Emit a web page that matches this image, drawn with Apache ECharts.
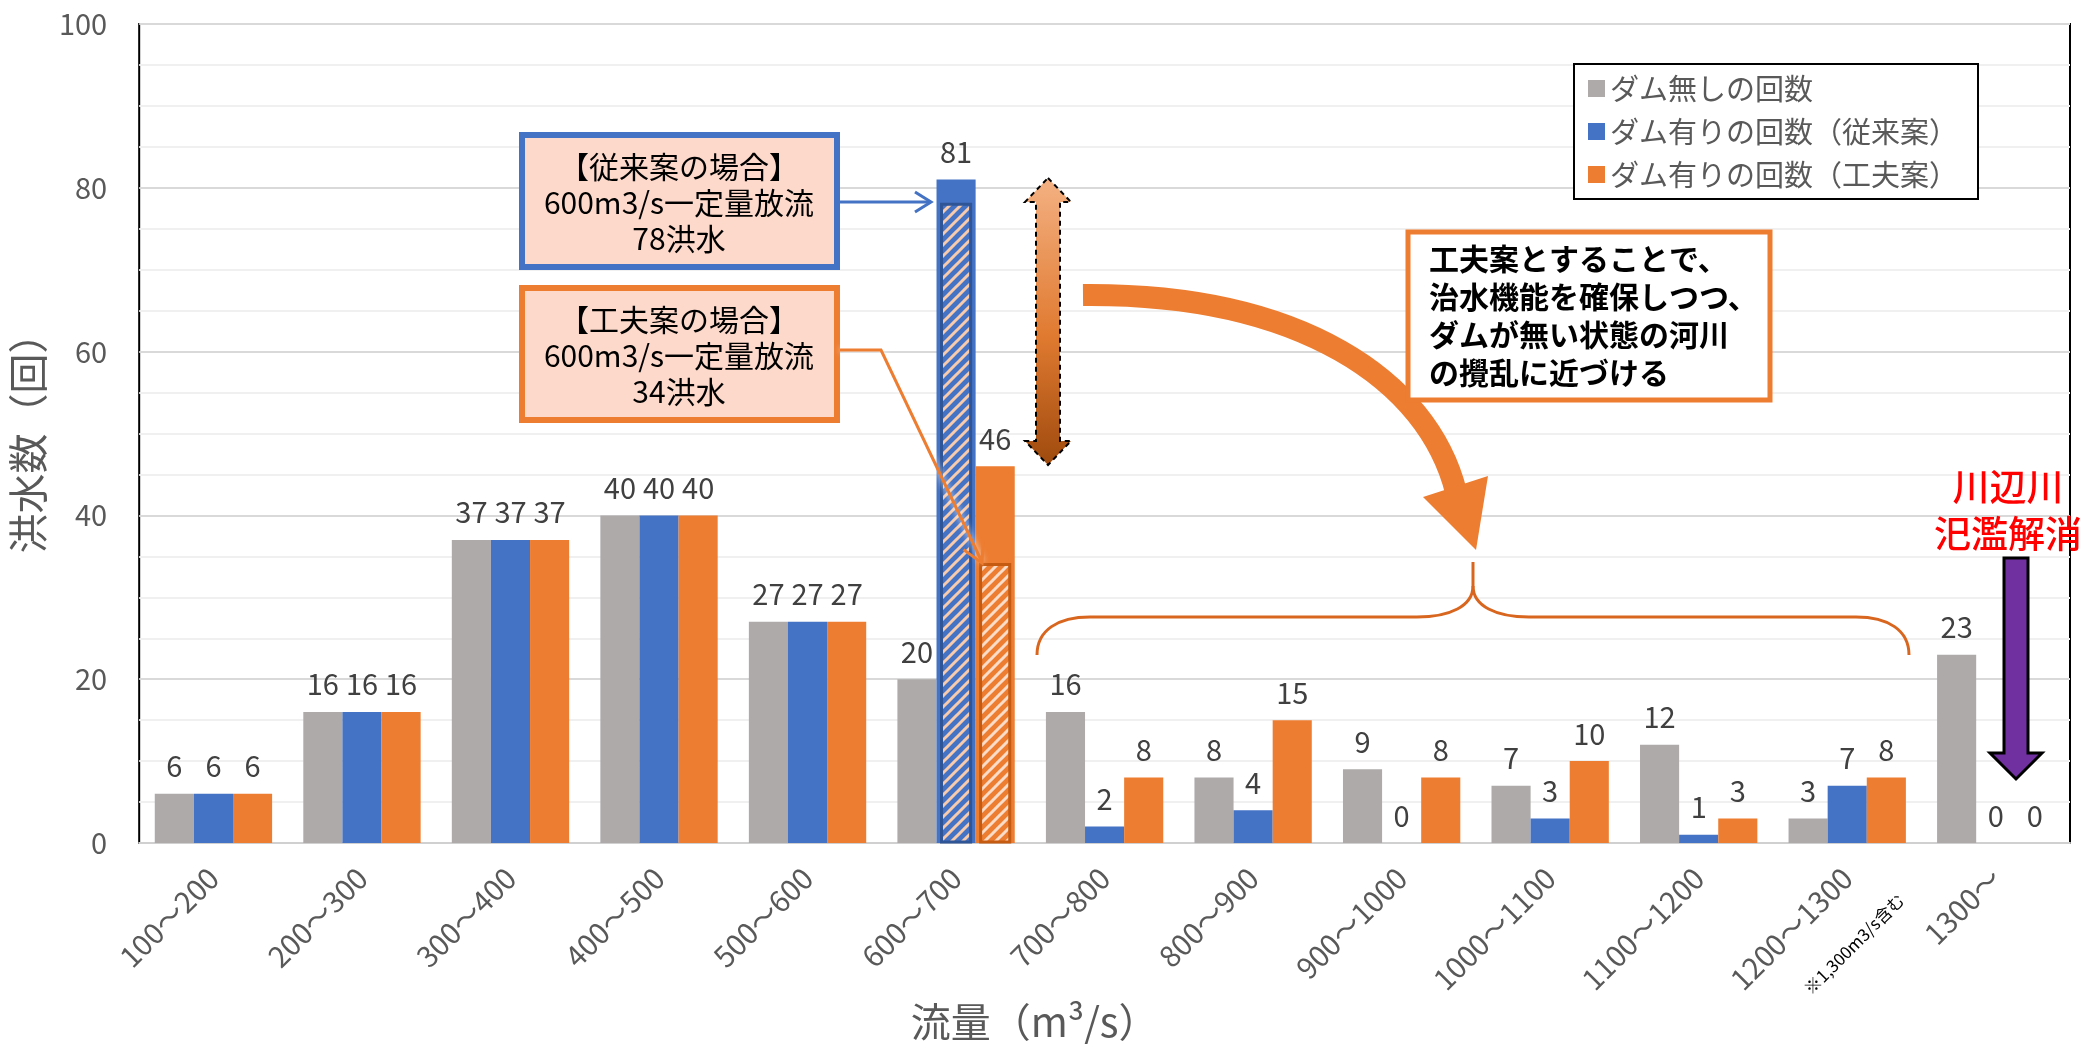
<!DOCTYPE html>
<html>
<head>
<meta charset="utf-8">
<script src="https://cdn.jsdelivr.net/npm/echarts@6/dist/echarts.min.js"></script>
<style>
html,body{margin:0;padding:0;background:#fff;}
#main{width:2087px;height:1050px;}
</style>
</head>
<body>
<div id="main"></div>
<script>
// 流量区分ごとの洪水数
var categories = ['100～200','200～300','300～400','400～500','500～600','600～700','700～800','800～900','900～1000','1000～1100','1100～1200','1200～1300','1300～'];
var noDam = [6, 16, 37, 40, 27, 20, 16, 8, 9, 7, 12, 3, 23];
var withDamConv = [6, 16, 37, 40, 27, 81, 2, 4, 0, 3, 1, 7, 0];
var withDamKufu = [6, 16, 37, 40, 27, 46, 8, 15, 8, 10, 3, 8, 0];
var seriesNames = ['ダム無しの回数', 'ダム有りの回数（従来案）', 'ダム有りの回数（工夫案）'];
var seriesColors = ['#AEAAAA', '#4472C4', '#ED7D31'];
// 600m3/s一定量放流の洪水数（斜線部）
var hatchCategory = '600～700';
var hatchConv = 78;
var hatchKufu = 34;

var FONT = '"Noto Sans CJK JP", "Noto Sans", sans-serif';

function stripes(bg, fg) {
  var s = 11;
  var c = document.createElement('canvas');
  c.width = s; c.height = s;
  var g = c.getContext('2d');
  g.fillStyle = bg;
  g.fillRect(0, 0, s, s);
  g.strokeStyle = fg;
  g.lineWidth = 3;
  g.beginPath();
  g.moveTo(-1, s + 1); g.lineTo(s + 1, -1);
  g.moveTo(-s / 2 - 1, s / 2 + 1); g.lineTo(s / 2 + 1, -s / 2 - 1);
  g.moveTo(s / 2 - 1, s * 1.5 + 1); g.lineTo(s * 1.5 + 1, s / 2 - 1);
  g.stroke();
  return c;
}
var hatchFill = [
  null,
  { image: stripes('#4472C4', '#F8CBAD'), repeat: 'repeat' },
  { image: stripes('#ED7D31', '#FBDCC8'), repeat: 'repeat' }
];
var hatchStroke = [null, '#2F5597', '#C55A11'];

function barSeries(i, data) {
  return {
    type: 'bar',
    name: seriesNames[i],
    data: data,
    barGap: '0%',
    barCategoryGap: '21%',
    itemStyle: { color: seriesColors[i] },
    label: {
      show: true, position: 'top', distance: 13,
      color: '#404040', fontSize: 29, fontFamily: FONT
    }
  };
}

// 矢印の頭（開いた形）
function chevron(x0, y0, x1, y1, len, half) {
  var dx = x1 - x0, dy = y1 - y0;
  var d = Math.sqrt(dx * dx + dy * dy);
  var ux = dx / d, uy = dy / d;
  var bx = x1 - ux * len, by = y1 - uy * len;
  return [[bx - uy * half, by + ux * half], [x1, y1], [bx + uy * half, by - ux * half]];
}

var chart = echarts.init(document.getElementById('main'));
var hatchIdx = categories.indexOf(hatchCategory);

var boxText = { fill: '#000', font: '30px ' + FONT, align: 'center', verticalAlign: 'middle',
  textAlign: 'center', textVerticalAlign: 'middle', lineHeight: 36 };

var braceStyle = { stroke: '#D9661F', lineWidth: 3, fill: null };
function braceCurve(a, b, c, d) {
  return { type: 'bezierCurve', z: 100, shape: { x1: a[0], y1: a[1], cpx1: b[0], cpy1: b[1], cpx2: c[0], cpy2: c[1], x2: d[0], y2: d[1] }, style: braceStyle };
}
function braceLine(a, b) {
  return { type: 'line', z: 100, shape: { x1: a[0], y1: a[1], x2: b[0], y2: b[1] }, style: braceStyle };
}

chart.setOption({
  backgroundColor: '#fff',
  animation: false,
  textStyle: { fontFamily: FONT },
  grid: { left: 139, right: 17, top: 24, bottom: 207, show: true, borderColor: '#000', borderWidth: 2 },
  legend: {
    data: seriesNames,
    orient: 'vertical',
    left: 1574, top: 64,
    itemWidth: 17, itemHeight: 17, itemGap: 14,
    padding: [10, 20, 10, 14],
    backgroundColor: '#fff',
    borderColor: '#000', borderWidth: 2,
    icon: 'rect',
    textStyle: { color: '#595959', fontSize: 29, fontFamily: FONT }
  },
  xAxis: {
    type: 'category',
    data: categories,
    name: '流量（m³/s）',
    nameLocation: 'middle',
    nameGap: 158,
    nameTextStyle: { color: '#595959', fontSize: 40, fontFamily: FONT, padding: [0, 140, 0, 0] },
    axisLine: { lineStyle: { color: '#D0D0D0', width: 2 } },
    axisTick: { show: false },
    axisLabel: { rotate: 45, margin: 30, color: '#595959', fontSize: 29, fontFamily: FONT, interval: 0 }
  },
  yAxis: {
    type: 'value',
    min: 0, max: 100, interval: 20,
    name: '洪水数（回）',
    nameLocation: 'middle',
    nameGap: 80,
    nameTextStyle: { color: '#595959', fontSize: 40, fontFamily: FONT },
    axisLine: { show: false },
    axisTick: { show: false },
    axisLabel: { margin: 32, color: '#595959', fontSize: 29, fontFamily: FONT },
    splitLine: { lineStyle: { color: '#D9D9D9', width: 2 } },
    minorTick: { show: false, splitNumber: 4 },
    minorSplitLine: { show: true, lineStyle: { color: '#F0F0F0', width: 2 } }
  },
  series: [
    barSeries(0, noDam),
    barSeries(1, withDamConv),
    barSeries(2, withDamKufu),
    {
      type: 'custom',
      name: '一定量放流',
      z: 3,
      data: [[hatchIdx, hatchConv, 1], [hatchIdx, hatchKufu, 2]],
      renderItem: function (params, api) {
        var slot = api.value(2);
        var band = api.size([1, 0])[0];
        var barW = band * 0.79 / 3;
        var base = api.coord([api.value(0), 0]);
        var top = api.coord([api.value(0), api.value(1)]);
        var cx = base[0] + (slot - 1) * barW;
        var inset = 5;
        return {
          type: 'rect',
          shape: { x: cx - barW / 2 + inset, y: top[1], width: barW - inset * 2, height: base[1] - top[1] - 1 },
          style: { fill: hatchFill[slot], stroke: hatchStroke[slot], lineWidth: 3 }
        };
      }
    }
  ],
  graphic: { elements: [
    // 従来案の枠
    { type: 'rect', z: 100, shape: { x: 522, y: 135, width: 315, height: 132 },
      style: { fill: '#FDD9CB', stroke: '#4472C4', lineWidth: 6 } },
    { type: 'text', z: 101, style: Object.assign({ x: 679, y: 203, text: '【従来案の場合】\n600m3/s一定量放流\n78洪水' }, boxText) },
    { type: 'polyline', z: 100, shape: { points: [[840, 202], [930, 202]] }, style: { stroke: '#4472C4', lineWidth: 3, fill: null } },
    { type: 'polyline', z: 100, shape: { points: chevron(840, 202, 931, 202, 16, 10) }, style: { stroke: '#4472C4', lineWidth: 3, fill: null } },
    // 工夫案の枠
    { type: 'rect', z: 100, shape: { x: 522, y: 288, width: 315, height: 132 },
      style: { fill: '#FDD9CB', stroke: '#ED7D31', lineWidth: 6 } },
    { type: 'text', z: 101, style: Object.assign({ x: 679, y: 356, text: '【工夫案の場合】\n600m3/s一定量放流\n34洪水' }, boxText) },
    { type: 'polyline', z: 100, shape: { points: [[840, 350], [881, 350], [982, 562]] },
      style: { stroke: '#ED7D31', lineWidth: 3, fill: null, shadowBlur: 6, shadowColor: 'rgba(255,255,255,0.9)' } },
    { type: 'polyline', z: 100, shape: { points: chevron(881, 350, 982, 563, 20, 11) }, style: { stroke: '#ED7D31', lineWidth: 3, fill: null } },
    // 差を示す両矢印
    { type: 'polygon', z: 100, shape: { points: [[1048, 178], [1071, 202], [1060, 202], [1060, 441], [1071, 441], [1048, 465], [1025, 441], [1036, 441], [1036, 202], [1025, 202]] },
      style: { fill: { type: 'linear', x: 0, y: 0, x2: 0, y2: 1, colorStops: [{ offset: 0, color: '#F4B183' }, { offset: 0.55, color: '#E07A30' }, { offset: 1, color: '#9E4A0E' }] },
        stroke: '#000', lineWidth: 2, lineDash: [5, 4] } },
    // 曲がった矢印
    { type: 'bezierCurve', z: 100, shape: { x1: 1083, y1: 295, cpx1: 1300, cpy1: 293, cpx2: 1428, cpy2: 380, x2: 1456, y2: 492 },
      style: { stroke: '#ED7D31', lineWidth: 22, fill: null } },
    { type: 'polygon', z: 100, shape: { points: [[1423, 497], [1488, 476], [1476, 550]] }, style: { fill: '#ED7D31' } },
    // 説明の枠
    { type: 'rect', z: 100, shape: { x: 1408, y: 232, width: 362, height: 168 },
      style: { fill: '#fff', stroke: '#ED7D31', lineWidth: 5 } },
    { type: 'text', z: 101, style: { x: 1429, y: 316, text: '工夫案とすることで、\n治水機能を確保しつつ、\nダムが無い状態の河川\nの攪乱に近づける',
      fill: '#000', font: 'bold 30px ' + FONT, align: 'left', verticalAlign: 'middle', textAlign: 'left', textVerticalAlign: 'middle', lineHeight: 38 } },
    // 中括弧
    braceCurve([1037, 655], [1037, 630], [1058, 617], [1090, 617]),
    braceLine([1090, 617], [1417, 617]),
    braceCurve([1417, 617], [1450, 617], [1473, 606], [1473, 586]),
    braceLine([1473, 586], [1473, 562]),
    braceCurve([1473, 586], [1473, 606], [1496, 617], [1529, 617]),
    braceLine([1529, 617], [1856, 617]),
    braceCurve([1856, 617], [1888, 617], [1909, 630], [1909, 655]),
    // 川辺川
    { type: 'text', z: 101, style: { x: 2008, y: 510, text: '川辺川\n汜濫解消', fill: '#FF0000', font: '500 37px ' + FONT,
      align: 'center', verticalAlign: 'middle', textAlign: 'center', textVerticalAlign: 'middle', lineHeight: 47 } },
    { type: 'polygon', z: 100, shape: { points: [[2004, 558], [2028, 558], [2028, 753], [2042, 753], [2016, 779], [1990, 753], [2004, 753]] },
      style: { fill: '#7030A0', stroke: '#000', lineWidth: 3 } },
    // 注記
    { type: 'text', z: 101, rotation: Math.PI / 4, x: 1854, y: 944, style: { x: 0, y: 0, text: '※1,300m3/s含む', fill: '#000', font: '17px ' + FONT,
      align: 'center', verticalAlign: 'middle', textAlign: 'center', textVerticalAlign: 'middle' } }
  ] }
});
</script>
</body>
</html>
